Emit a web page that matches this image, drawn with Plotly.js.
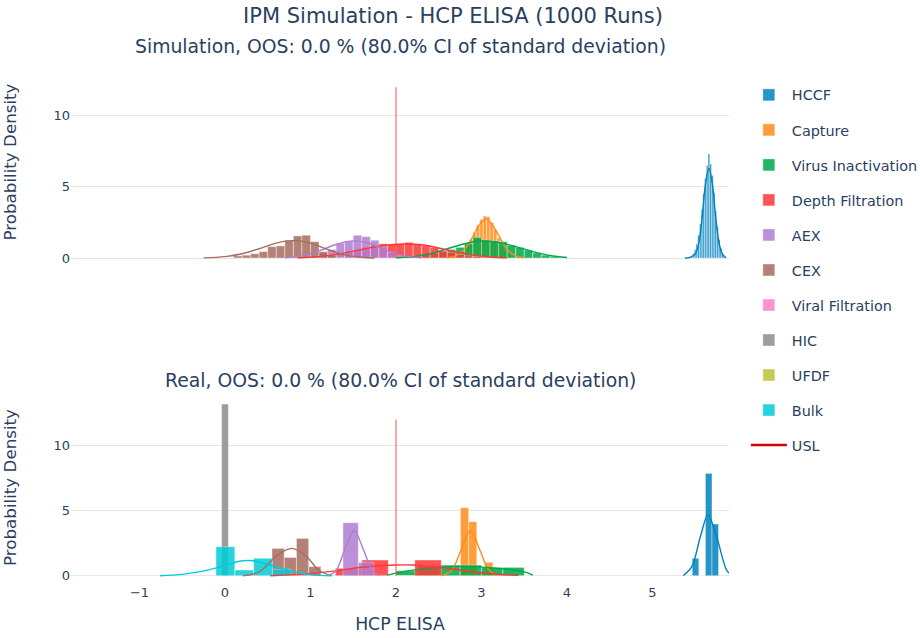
<!DOCTYPE html>
<html><head><meta charset="utf-8">
<script src="https://cdn.plot.ly/plotly-3.0.1.min.js"></script>
<style>body{margin:0;background:#fff}</style>
</head><body><div id="chart" style="width:920px;height:638px"></div>
<script>
// ---------------- DATA ----------------
const stages = ['HCCF','Capture','Virus Inactivation','Depth Filtration','AEX','CEX','Viral Filtration','HIC','UFDF','Bulk'];
const usl = 2;
const uslSpan = [0, 12];
const xTicks = [-1, 0, 1, 2, 3, 4, 5];

// Simulation (top) histograms: bin start, bin width, densities; KDE curves
const simHCCF_start = 5.45, simHCCF_size = 0.02;
const simHCCF_density = [0.1,0.3,0.6,1.0,1.6,2.4,3.4,4.5,5.6,6.5,7.3,6.6,5.8,4.6,3.3,2.2,1.3,0.7,0.3,0.1];
const simHCCF_curveX = [5.38,5.44,5.50,5.54,5.58,5.62,5.66,5.70,5.74,5.78,5.82,5.86];
const simHCCF_curveY = [0,0.05,0.3,1.0,2.8,5.2,6.3,5.2,2.8,1.0,0.25,0.02];

const simCapture_start = 2.70, simCapture_size = 0.04;
const simCapture_density = [0.1,0.25,0.45,0.8,1.3,1.8,2.3,2.7,2.95,2.9,2.5,2.0,1.4,0.9,0.5,0.25,0.1];
const simCapture_curveX = [2.60,2.70,2.80,2.90,2.97,3.05,3.12,3.20,3.30,3.40,3.50];
const simCapture_curveY = [0.02,0.15,0.6,1.5,2.3,2.75,2.4,1.6,0.6,0.15,0.02];

const simVirus_start = 2.0, simVirus_size = 0.1;
const simVirus_density = [0.03,0.05,0.1,0.2,0.3,0.45,0.6,0.75,1.0,1.45,1.25,1.2,1.15,0.9,0.75,0.55,0.35,0.2,0.1,0.05];
const simVirus_curveX = [2.0,2.2,2.4,2.6,2.8,2.95,3.05,3.2,3.4,3.6,3.8,4.0];
const simVirus_curveY = [0.02,0.1,0.3,0.65,1.0,1.18,1.2,1.1,0.8,0.45,0.18,0.04];

const simDepth_start = 1.0, simDepth_size = 0.1;
const simDepth_density = [0.05,0.1,0.2,0.3,0.45,0.6,0.75,0.9,1.0,0.95,1.0,1.1,0.95,0.9,0.75,0.5,0.4,0.25,0.15,0.1,0.05,0.03];
const simDepth_curveX = [0.85,1.1,1.35,1.6,1.85,2.1,2.3,2.5,2.7,2.9,3.1,3.3];
const simDepth_curveY = [0.02,0.1,0.3,0.6,0.88,0.98,0.93,0.7,0.42,0.2,0.07,0.01];

const simAEX_start = 1.0, simAEX_size = 0.1;
const simAEX_density = [0.15,0.35,0.6,1.05,1.2,1.6,1.5,1.25,0.8,0.4,0.15];
const simAEX_curveX = [0.7,0.9,1.1,1.3,1.5,1.7,1.9,2.1,2.3];
const simAEX_curveY = [0.02,0.15,0.5,0.95,1.2,1.0,0.5,0.15,0.02];

const simCEX_start = 0.1, simCEX_size = 0.1;
const simCEX_density = [0.15,0.2,0.3,0.45,0.8,0.85,1.25,1.55,1.6,1.15,0.45,0.2,0.05];
const simCEX_curveX = [-0.25,0.0,0.2,0.4,0.6,0.8,1.0,1.2,1.4,1.6,1.75];
const simCEX_curveY = [0.01,0.1,0.3,0.65,1.05,1.22,1.05,0.6,0.22,0.05,0];

// Real (bottom) histograms and KDE curves
const realHCCF_start = 5.465, realHCCF_size = 0.077;
const realHCCF_density = [1.34,0,7.87,3.98];
const realHCCF_curveX = [5.36,5.46,5.56,5.65,5.75,5.87,5.92];
const realHCCF_curveY = [0.02,0.7,3.0,4.67,3.0,0.4,0.1];

const realCapture_start = 2.755, realCapture_size = 0.095;
const realCapture_density = [5.23,4.15,0.3,1.03];
const realCapture_curveX = [2.53,2.65,2.75,2.87,2.98,3.08,3.18];
const realCapture_curveY = [0,0.4,1.8,3.46,2.0,0.5,0.02];

const realVirus_start = 2.0, realVirus_size = 0.25;
const realVirus_density = [0.38,0.7,0.82,0.82,0.64,0.64];
const realVirus_curveX = [1.9,2.1,2.4,2.75,3.1,3.5,3.6];
const realVirus_curveY = [0.05,0.33,0.58,0.72,0.62,0.3,0.05];

const realDepth_start = 1.29, realDepth_size = 0.31;
const realDepth_density = [0.57,1.21,0,1.21];
const realDepth_curveX = [0.53,0.9,1.27,1.6,2.0,2.2,2.59,2.98,3.43];
const realDepth_curveY = [0,0.12,0.35,0.65,0.82,0.82,0.57,0.23,0.02];

const realAEX_start = 1.38, realAEX_size = 0.18;
const realAEX_density = [4.08,1.03];
const realAEX_curveX = [1.21,1.3,1.4,1.51,1.62,1.72,1.8];
const realAEX_curveY = [0,0.4,2.0,3.46,2.0,0.4,0.02];

const realCEX_start = 0.55, realCEX_size = 0.143;
const realCEX_density = [2.1,1.4,2.87,0.7];
const realCEX_curveX = [0.21,0.4,0.6,0.78,0.95,1.1,1.23];
const realCEX_curveY = [0,0.3,1.5,2.1,1.5,0.4,0.02];

const realHIC_start = -0.04, realHIC_size = 0.08;
const realHIC_density = [13.2];

const realBulk_start = -0.105, realBulk_size = 0.22;
const realBulk_density = [2.23,0.44,1.34,0.49];
const realBulk_curveX = [-0.76,-0.5,-0.29,-0.1,0.1,0.21,0.33,0.55,0.76,1.0,1.25];
const realBulk_curveY = [0,0.1,0.31,0.6,1.0,1.15,1.15,0.77,0.38,0.08,0];

// ---------------- STYLE ----------------
const colors = ['rgb(0,130,190)','rgb(255,140,25)','rgb(0,168,72)','rgb(255,55,55)','rgb(176,125,208)',
                'rgb(168,108,96)','rgb(255,128,200)','rgb(140,140,140)','rgb(192,192,60)','rgb(0,205,215)'];
const textColor = '#2a3f5f';
const gridColor = '#e6e6e6';

const sim = {
  'HCCF': [simHCCF_start, simHCCF_size, simHCCF_density, simHCCF_curveX, simHCCF_curveY],
  'Capture': [simCapture_start, simCapture_size, simCapture_density, simCapture_curveX, simCapture_curveY],
  'Virus Inactivation': [simVirus_start, simVirus_size, simVirus_density, simVirus_curveX, simVirus_curveY],
  'Depth Filtration': [simDepth_start, simDepth_size, simDepth_density, simDepth_curveX, simDepth_curveY],
  'AEX': [simAEX_start, simAEX_size, simAEX_density, simAEX_curveX, simAEX_curveY],
  'CEX': [simCEX_start, simCEX_size, simCEX_density, simCEX_curveX, simCEX_curveY]
};
const real = {
  'HCCF': [realHCCF_start, realHCCF_size, realHCCF_density, realHCCF_curveX, realHCCF_curveY],
  'Capture': [realCapture_start, realCapture_size, realCapture_density, realCapture_curveX, realCapture_curveY],
  'Virus Inactivation': [realVirus_start, realVirus_size, realVirus_density, realVirus_curveX, realVirus_curveY],
  'Depth Filtration': [realDepth_start, realDepth_size, realDepth_density, realDepth_curveX, realDepth_curveY],
  'AEX': [realAEX_start, realAEX_size, realAEX_density, realAEX_curveX, realAEX_curveY],
  'CEX': [realCEX_start, realCEX_size, realCEX_density, realCEX_curveX, realCEX_curveY],
  'HIC': [realHIC_start, realHIC_size, realHIC_density, null, null],
  'Bulk': [realBulk_start, realBulk_size, realBulk_density, realBulk_curveX, realBulk_curveY]
};

function barTrace(name, color, d, xa, ya, showlegend) {
  let xs = [], ws = [], ys = [];
  if (d) {
    d[2].forEach((v, i) => { xs.push(d[0] + d[1] * (i + 0.5)); ws.push(d[1]); ys.push(v); });
  } else { xs = [null]; ys = [null]; ws = undefined; }
  return {type:'bar', name:name, legendgroup:name, showlegend:showlegend, x:xs, y:ys, width:ws,
          xaxis:xa, yaxis:ya, opacity:0.85, marker:{color:color, line:{color:'rgba(255,255,255,0.8)', width:0.5}},
          hoverinfo:'skip'};
}
function curveTrace(name, color, d, xa, ya) {
  return {type:'scatter', mode:'lines', name:name, legendgroup:name, showlegend:false,
          x:d[3], y:d[4], xaxis:xa, yaxis:ya, line:{color:color, width:1.4, shape:'spline', smoothing:1},
          hoverinfo:'skip'};
}

const traces = [];
stages.forEach((s, i) => {
  traces.push(barTrace(s, colors[i], sim[s], 'x', 'y', true));
  if (real[s]) traces.push(barTrace(s, colors[i], real[s], 'x2', 'y2', false));
});
stages.forEach((s, i) => {
  if (sim[s] && sim[s][3]) traces.push(curveTrace(s, colors[i], sim[s], 'x', 'y'));
  if (real[s] && real[s][3]) traces.push(curveTrace(s, colors[i], real[s], 'x2', 'y2'));
});
traces.push({type:'scatter', mode:'lines', name:'USL', legendgroup:'USL', showlegend:false, x:[usl,usl], y:uslSpan,
             xaxis:'x', yaxis:'y', line:{color:'rgba(240,60,60,0.55)', width:1.6}, hoverinfo:'skip'});
traces.push({type:'scatter', mode:'lines', name:'USL', legendgroup:'USL', showlegend:false, x:[usl,usl], y:uslSpan,
             xaxis:'x2', yaxis:'y2', line:{color:'rgba(240,60,60,0.55)', width:1.6}, hoverinfo:'skip'});
traces.push({type:'scatter', mode:'lines', name:'USL', legendgroup:'USL', showlegend:true, x:[null], y:[null],
             xaxis:'x', yaxis:'y', line:{color:'rgb(210,0,0)', width:2.5}, hoverinfo:'skip'});

const xr = [-1.801, 5.895];
const layout = {
  width:920, height:638,
  margin:{l:71, r:191, t:58, b:55, autoexpand:false},
  paper_bgcolor:'#ffffff', plot_bgcolor:'#ffffff',
  font:{family:'DejaVu Sans, Verdana, sans-serif', color:textColor, size:13},
  title:{text:'IPM Simulation - HCP ELISA (1000 Runs)', x:0.4924, xref:'container', xanchor:'center',
         y:0.976, yref:'container', yanchor:'middle', font:{size:21, color:textColor}},
  barmode:'overlay',
  showlegend:true,
  legend:{x:1.0256, y:0.96, xanchor:'left', yanchor:'top', font:{size:14.4, color:textColor}, tracegroupgap:13.3, itemwidth:36},
  xaxis:{domain:[0,1], anchor:'y', range:xr, showticklabels:false, showgrid:false, zeroline:false, ticks:''},
  yaxis:{domain:[0.6038,1], anchor:'x', range:[-0.562,14.05], dtick:5, tick0:0, gridcolor:gridColor, zeroline:false,
         ticks:'', title:{text:'Probability Density', font:{size:16.7}, standoff:32}},
  xaxis2:{domain:[0,1], anchor:'y2', range:xr, tickvals:xTicks, ticktext:xTicks.map(v => v < 0 ? '\u2212' + Math.abs(v) : String(v)),
          showgrid:false, zeroline:false, ticks:'', title:{text:'HCP ELISA', font:{size:17.3}, standoff:18}},
  yaxis2:{domain:[0,0.3638], anchor:'x2', range:[-0.56,14.13], dtick:5, tick0:0, gridcolor:gridColor, zeroline:false,
          ticks:'', title:{text:'Probability Density', font:{size:16.7}, standoff:32}},
  annotations:[
    {text:'Simulation, OOS: 0.0 % (80.0% CI of standard deviation)', xref:'paper', yref:'paper', x:0.5, y:1.021,
     xanchor:'center', yanchor:'middle', showarrow:false, font:{size:18.8, color:textColor}},
    {text:'Real, OOS: 0.0 % (80.0% CI of standard deviation)', xref:'paper', yref:'paper', x:0.5, y:0.3848,
     xanchor:'center', yanchor:'middle', showarrow:false, font:{size:18.8, color:textColor}}
  ]
};
Plotly.newPlot('chart', traces, layout, {displayModeBar:false, staticPlot:true});
</script></body></html>
